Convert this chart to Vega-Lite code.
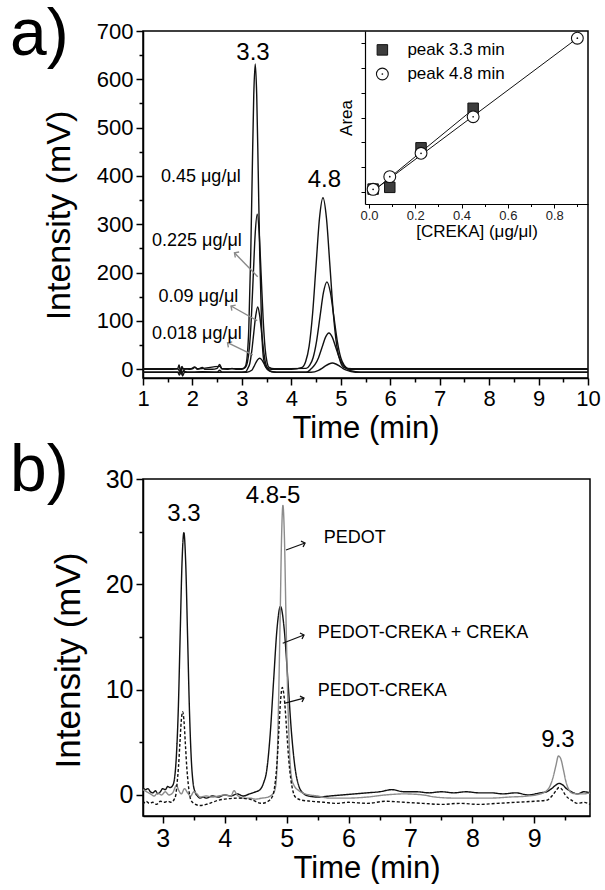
{
"$schema": "https://vega.github.io/schema/vega-lite/v6.json",
"background": "white",
"padding": {"left": 9, "top": 1, "right": 5, "bottom": 0},
"bounds": "flush",
"spacing": 101,
"config": {
  "font": "Liberation Sans",
  "view": {"stroke": "black", "strokeWidth": 1.5},
  "axis": {"grid": false, "domainColor": "black", "domainWidth": 1.5, "tickColor": "black", "tickWidth": 1.5, "labelColor": "black", "titleColor": "black", "titleFontWeight": "normal", "labelFont": "Liberation Sans", "titleFont": "Liberation Sans", "labelFlush": false, "labelOverlap": false}
},
"datasets": {
  "a": [
    {"t":1.0,"v":0,"c":"0.45"},{"t":1.3,"v":0,"c":"0.45"},{"t":1.6,"v":0,"c":"0.45"},{"t":1.7,"v":1,"c":"0.45"},{"t":1.73,"v":9,"c":"0.45"},{"t":1.76,"v":-6,"c":"0.45"},{"t":1.79,"v":6,"c":"0.45"},{"t":1.82,"v":-3,"c":"0.45"},{"t":1.86,"v":1,"c":"0.45"},{"t":1.95,"v":0,"c":"0.45"},{"t":2.05,"v":5,"c":"0.45"},{"t":2.1,"v":0,"c":"0.45"},{"t":2.2,"v":4,"c":"0.45"},{"t":2.25,"v":0,"c":"0.45"},{"t":2.4,"v":0,"c":"0.45"},{"t":2.5,"v":2,"c":"0.45"},{"t":2.55,"v":10,"c":"0.45"},{"t":2.6,"v":1,"c":"0.45"},{"t":2.7,"v":0,"c":"0.45"},{"t":2.8,"v":2,"c":"0.45"},{"t":2.9,"v":0,"c":"0.45"},{"t":3.0,"v":0,"c":"0.45"},{"t":3.07,"v":6,"c":"0.45"},{"t":3.11,"v":30,"c":"0.45"},{"t":3.14,"v":85,"c":"0.45"},{"t":3.18,"v":243,"c":"0.45"},{"t":3.21,"v":411,"c":"0.45"},{"t":3.24,"v":567,"c":"0.45"},{"t":3.27,"v":632,"c":"0.45"},{"t":3.30,"v":567,"c":"0.45"},{"t":3.33,"v":411,"c":"0.45"},{"t":3.36,"v":243,"c":"0.45"},{"t":3.40,"v":85,"c":"0.45"},{"t":3.44,"v":21,"c":"0.45"},{"t":3.5,"v":3,"c":"0.45"},{"t":3.6,"v":0,"c":"0.45"},{"t":4.0,"v":0,"c":"0.45"},{"t":4.22,"v":4,"c":"0.45"},{"t":4.29,"v":16,"c":"0.45"},{"t":4.36,"v":48,"c":"0.45"},{"t":4.43,"v":115,"c":"0.45"},{"t":4.50,"v":215,"c":"0.45"},{"t":4.57,"v":313,"c":"0.45"},{"t":4.64,"v":355,"c":"0.45"},{"t":4.71,"v":313,"c":"0.45"},{"t":4.78,"v":215,"c":"0.45"},{"t":4.85,"v":115,"c":"0.45"},{"t":4.92,"v":48,"c":"0.45"},{"t":4.99,"v":16,"c":"0.45"},{"t":5.06,"v":4,"c":"0.45"},{"t":5.2,"v":0,"c":"0.45"},{"t":6,"v":0,"c":"0.45"},{"t":7,"v":0,"c":"0.45"},{"t":8,"v":0,"c":"0.45"},{"t":9,"v":0,"c":"0.45"},{"t":10,"v":0,"c":"0.45"},
    {"t":1.0,"v":1,"c":"0.225"},{"t":1.7,"v":1,"c":"0.225"},{"t":1.75,"v":-4,"c":"0.225"},{"t":1.78,"v":5,"c":"0.225"},{"t":1.82,"v":1,"c":"0.225"},{"t":2.0,"v":1,"c":"0.225"},{"t":2.05,"v":4,"c":"0.225"},{"t":2.1,"v":1,"c":"0.225"},{"t":2.55,"v":6,"c":"0.225"},{"t":2.6,"v":1,"c":"0.225"},{"t":3.0,"v":1,"c":"0.225"},{"t":3.07,"v":4,"c":"0.225"},{"t":3.11,"v":14,"c":"0.225"},{"t":3.15,"v":43,"c":"0.225"},{"t":3.19,"v":104,"c":"0.225"},{"t":3.23,"v":194,"c":"0.225"},{"t":3.27,"v":282,"c":"0.225"},{"t":3.31,"v":321,"c":"0.225"},{"t":3.35,"v":282,"c":"0.225"},{"t":3.39,"v":194,"c":"0.225"},{"t":3.43,"v":104,"c":"0.225"},{"t":3.47,"v":43,"c":"0.225"},{"t":3.51,"v":14,"c":"0.225"},{"t":3.55,"v":4,"c":"0.225"},{"t":3.65,"v":1,"c":"0.225"},{"t":4.3,"v":2,"c":"0.225"},{"t":4.37,"v":8,"c":"0.225"},{"t":4.44,"v":24,"c":"0.225"},{"t":4.51,"v":58,"c":"0.225"},{"t":4.58,"v":109,"c":"0.225"},{"t":4.65,"v":159,"c":"0.225"},{"t":4.72,"v":181,"c":"0.225"},{"t":4.79,"v":159,"c":"0.225"},{"t":4.86,"v":109,"c":"0.225"},{"t":4.93,"v":58,"c":"0.225"},{"t":5.00,"v":24,"c":"0.225"},{"t":5.07,"v":8,"c":"0.225"},{"t":5.14,"v":2,"c":"0.225"},{"t":5.3,"v":1,"c":"0.225"},{"t":6,"v":1,"c":"0.225"},{"t":7,"v":1,"c":"0.225"},{"t":8,"v":1,"c":"0.225"},{"t":9,"v":1,"c":"0.225"},{"t":10,"v":1,"c":"0.225"},
    {"t":1.0,"v":-6,"c":"0.09"},{"t":1.7,"v":-6,"c":"0.09"},{"t":1.74,"v":-12,"c":"0.09"},{"t":1.77,"v":-2,"c":"0.09"},{"t":1.8,"v":-14,"c":"0.09"},{"t":1.84,"v":-6,"c":"0.09"},{"t":2.0,"v":-6,"c":"0.09"},{"t":2.2,"v":-5,"c":"0.09"},{"t":2.5,"v":-6,"c":"0.09"},{"t":2.55,"v":-2,"c":"0.09"},{"t":2.6,"v":-6,"c":"0.09"},{"t":3.0,"v":-6,"c":"0.09"},{"t":3.08,"v":-5,"c":"0.09"},{"t":3.12,"v":2,"c":"0.09"},{"t":3.16,"v":12,"c":"0.09"},{"t":3.20,"v":38,"c":"0.09"},{"t":3.24,"v":75,"c":"0.09"},{"t":3.28,"v":111,"c":"0.09"},{"t":3.32,"v":129,"c":"0.09"},{"t":3.36,"v":111,"c":"0.09"},{"t":3.40,"v":75,"c":"0.09"},{"t":3.44,"v":38,"c":"0.09"},{"t":3.48,"v":12,"c":"0.09"},{"t":3.52,"v":2,"c":"0.09"},{"t":3.58,"v":-4,"c":"0.09"},{"t":3.7,"v":-6,"c":"0.09"},{"t":4.3,"v":-6,"c":"0.09"},{"t":4.41,"v":2,"c":"0.09"},{"t":4.48,"v":10,"c":"0.09"},{"t":4.55,"v":24,"c":"0.09"},{"t":4.62,"v":45,"c":"0.09"},{"t":4.69,"v":66,"c":"0.09"},{"t":4.76,"v":75,"c":"0.09"},{"t":4.83,"v":66,"c":"0.09"},{"t":4.90,"v":45,"c":"0.09"},{"t":4.97,"v":24,"c":"0.09"},{"t":5.04,"v":10,"c":"0.09"},{"t":5.11,"v":3,"c":"0.09"},{"t":5.2,"v":-3,"c":"0.09"},{"t":5.4,"v":-6,"c":"0.09"},{"t":6,"v":-6,"c":"0.09"},{"t":7,"v":-6,"c":"0.09"},{"t":8,"v":-6,"c":"0.09"},{"t":9,"v":-6,"c":"0.09"},{"t":10,"v":-6,"c":"0.09"},
    {"t":1.0,"v":-6,"c":"0.018"},{"t":1.75,"v":-6,"c":"0.018"},{"t":1.78,"v":-10,"c":"0.018"},{"t":1.81,"v":-4,"c":"0.018"},{"t":1.9,"v":-6,"c":"0.018"},{"t":3.1,"v":-6,"c":"0.018"},{"t":3.2,"v":-2,"c":"0.018"},{"t":3.24,"v":5,"c":"0.018"},{"t":3.28,"v":13,"c":"0.018"},{"t":3.32,"v":20,"c":"0.018"},{"t":3.36,"v":23,"c":"0.018"},{"t":3.40,"v":20,"c":"0.018"},{"t":3.44,"v":13,"c":"0.018"},{"t":3.48,"v":5,"c":"0.018"},{"t":3.52,"v":-1,"c":"0.018"},{"t":3.6,"v":-5,"c":"0.018"},{"t":3.7,"v":-6,"c":"0.018"},{"t":4.4,"v":-6,"c":"0.018"},{"t":4.55,"v":-2,"c":"0.018"},{"t":4.62,"v":2,"c":"0.018"},{"t":4.69,"v":7,"c":"0.018"},{"t":4.76,"v":11,"c":"0.018"},{"t":4.83,"v":13,"c":"0.018"},{"t":4.90,"v":11,"c":"0.018"},{"t":4.97,"v":7,"c":"0.018"},{"t":5.04,"v":2,"c":"0.018"},{"t":5.1,"v":-1,"c":"0.018"},{"t":5.3,"v":-6,"c":"0.018"},{"t":6,"v":-6,"c":"0.018"},{"t":10,"v":-6,"c":"0.018"}
  ],
  "aLab": [
    {"t":-1.69,"v":757.7,"label":"a)","kind":"panel"},
    {"t":3.225,"v":640,"label":"3.3","kind":"peak"},
    {"t":4.67,"v":377,"label":"4.8","kind":"peak"},
    {"t":2.17,"v":387,"label":"0.45 μg/μl","kind":"conc"},
    {"t":2.09,"v":255,"label":"0.225 μg/μl","kind":"conc"},
    {"t":2.12,"v":140,"label":"0.09 μg/μl","kind":"conc"},
    {"t":2.09,"v":62,"label":"0.018 μg/μl","kind":"conc"}
  ],
  "aArr": [
    {"t":2.85,"v":241,"t2":3.32,"v2":191.6},
    {"t":2.78,"v":131,"t2":3.31,"v2":100.6},
    {"t":2.71,"v":55,"t2":3.22,"v2":29.6}
  ],
  "ins": [
    {"conc":0.018,"area":1.12,"kind":"sq"},{"conc":0.09,"area":1.19,"kind":"sq"},{"conc":0.225,"area":2.78,"kind":"sq"},{"conc":0.45,"area":4.37,"kind":"sq"},
    {"conc":0.018,"area":1.11,"kind":"ci"},{"conc":0.09,"area":1.62,"kind":"ci"},{"conc":0.225,"area":2.56,"kind":"ci"},{"conc":0.45,"area":4.03,"kind":"ci"},{"conc":0.9,"area":7.19,"kind":"ci"},
    {"conc":0.058,"area":6.72,"kind":"sq"},{"conc":0.058,"area":5.75,"kind":"ci"},
    {"conc":0.166,"area":6.72,"kind":"txt","label":"peak 3.3 min"},
    {"conc":0.166,"area":5.75,"kind":"txt","label":"peak 4.8 min"}
  ],
  "insFit": [
    {"conc":0.007,"area":0.95,"series":"p33"},{"conc":0.45,"area":4.33,"series":"p33"},
    {"conc":0.007,"area":0.97,"series":"p48"},{"conc":0.9,"area":7.19,"series":"p48"}
  ],
  "b": [
    {"t":2.68,"v":0.7,"s":"mix"},{"t":2.72,"v":0.5,"s":"mix"},{"t":2.76,"v":0.6,"s":"mix"},{"t":2.8,"v":0.3,"s":"mix"},{"t":2.84,"v":0.2,"s":"mix"},{"t":2.88,"v":0.4,"s":"mix"},{"t":2.92,"v":0.1,"s":"mix"},{"t":2.96,"v":0.3,"s":"mix"},{"t":3.0,"v":0.6,"s":"mix"},{"t":3.04,"v":0.5,"s":"mix"},{"t":3.08,"v":0.8,"s":"mix"},{"t":3.12,"v":0.7,"s":"mix"},{"t":3.16,"v":0.9,"s":"mix"},{"t":3.19,"v":1.6,"s":"mix"},{"t":3.22,"v":3.8,"s":"mix"},{"t":3.25,"v":8.1,"s":"mix"},{"t":3.28,"v":15.1,"s":"mix"},{"t":3.31,"v":22.0,"s":"mix"},{"t":3.34,"v":24.9,"s":"mix"},{"t":3.37,"v":22.0,"s":"mix"},{"t":3.40,"v":15.1,"s":"mix"},{"t":3.43,"v":8.1,"s":"mix"},{"t":3.46,"v":3.4,"s":"mix"},{"t":3.49,"v":1.1,"s":"mix"},{"t":3.52,"v":0.3,"s":"mix"},{"t":3.56,"v":-0.1,"s":"mix"},{"t":3.6,"v":-0.3,"s":"mix"},{"t":3.65,"v":-0.2,"s":"mix"},{"t":3.7,"v":-0.3,"s":"mix"},{"t":3.8,"v":-0.1,"s":"mix"},{"t":3.9,"v":-0.2,"s":"mix"},{"t":4.0,"v":0.0,"s":"mix"},{"t":4.1,"v":-0.1,"s":"mix"},{"t":4.2,"v":0.1,"s":"mix"},{"t":4.3,"v":-0.1,"s":"mix"},{"t":4.4,"v":0.1,"s":"mix"},{"t":4.5,"v":0.3,"s":"mix"},{"t":4.57,"v":0.5,"s":"mix"},{"t":4.625,"v":1.1,"s":"mix"},{"t":4.68,"v":2.4,"s":"mix"},{"t":4.735,"v":5.8,"s":"mix"},{"t":4.79,"v":10.9,"s":"mix"},{"t":4.845,"v":15.8,"s":"mix"},{"t":4.90,"v":17.9,"s":"mix"},{"t":4.96,"v":15.8,"s":"mix"},{"t":5.02,"v":10.9,"s":"mix"},{"t":5.08,"v":5.8,"s":"mix"},{"t":5.14,"v":2.4,"s":"mix"},{"t":5.20,"v":0.8,"s":"mix"},{"t":5.26,"v":0.2,"s":"mix"},{"t":5.35,"v":-0.1,"s":"mix"},{"t":5.5,"v":-0.2,"s":"mix"},{"t":5.7,"v":-0.1,"s":"mix"},{"t":5.9,"v":0.0,"s":"mix"},{"t":6.1,"v":0.1,"s":"mix"},{"t":6.3,"v":0.2,"s":"mix"},{"t":6.5,"v":0.3,"s":"mix"},{"t":6.7,"v":0.5,"s":"mix"},{"t":6.9,"v":0.3,"s":"mix"},{"t":7.1,"v":0.3,"s":"mix"},{"t":7.3,"v":0.2,"s":"mix"},{"t":7.5,"v":0.3,"s":"mix"},{"t":7.7,"v":0.2,"s":"mix"},{"t":7.9,"v":0.3,"s":"mix"},{"t":8.1,"v":0.2,"s":"mix"},{"t":8.3,"v":0.2,"s":"mix"},{"t":8.5,"v":0.1,"s":"mix"},{"t":8.7,"v":0.2,"s":"mix"},{"t":8.9,"v":0.0,"s":"mix"},{"t":9.1,"v":0.2,"s":"mix"},{"t":9.2,"v":0.3,"s":"mix"},{"t":9.28,"v":0.6,"s":"mix"},{"t":9.34,"v":0.9,"s":"mix"},{"t":9.40,"v":1.1,"s":"mix"},{"t":9.46,"v":0.95,"s":"mix"},{"t":9.52,"v":0.6,"s":"mix"},{"t":9.6,"v":0.3,"s":"mix"},{"t":9.7,"v":0.1,"s":"mix"},{"t":9.8,"v":0.3,"s":"mix"},{"t":9.9,"v":0.2,"s":"mix"},
    {"t":2.68,"v":0.5,"s":"pedot"},{"t":2.74,"v":0.3,"s":"pedot"},{"t":2.8,"v":0.1,"s":"pedot"},{"t":2.86,"v":-0.1,"s":"pedot"},{"t":2.92,"v":0.2,"s":"pedot"},{"t":2.98,"v":0.0,"s":"pedot"},{"t":3.04,"v":0.3,"s":"pedot"},{"t":3.1,"v":0.0,"s":"pedot"},{"t":3.16,"v":0.2,"s":"pedot"},{"t":3.22,"v":0.9,"s":"pedot"},{"t":3.26,"v":0.4,"s":"pedot"},{"t":3.3,"v":0.1,"s":"pedot"},{"t":3.35,"v":0.6,"s":"pedot"},{"t":3.4,"v":0.2,"s":"pedot"},{"t":3.45,"v":-0.1,"s":"pedot"},{"t":3.5,"v":0.3,"s":"pedot"},{"t":3.55,"v":0.1,"s":"pedot"},{"t":3.6,"v":-0.2,"s":"pedot"},{"t":3.7,"v":-0.1,"s":"pedot"},{"t":3.8,"v":-0.2,"s":"pedot"},{"t":3.9,"v":-0.1,"s":"pedot"},{"t":4.0,"v":0.0,"s":"pedot"},{"t":4.1,"v":-0.1,"s":"pedot"},{"t":4.15,"v":0.4,"s":"pedot"},{"t":4.2,"v":0.0,"s":"pedot"},{"t":4.3,"v":-0.3,"s":"pedot"},{"t":4.4,"v":-0.3,"s":"pedot"},{"t":4.5,"v":-0.4,"s":"pedot"},{"t":4.6,"v":-0.3,"s":"pedot"},{"t":4.7,"v":-0.2,"s":"pedot"},{"t":4.76,"v":0.0,"s":"pedot"},{"t":4.8,"v":0.3,"s":"pedot"},{"t":4.83,"v":1.2,"s":"pedot"},{"t":4.85,"v":3.7,"s":"pedot"},{"t":4.87,"v":8.9,"s":"pedot"},{"t":4.895,"v":16.7,"s":"pedot"},{"t":4.9175,"v":24.3,"s":"pedot"},{"t":4.94,"v":27.5,"s":"pedot"},{"t":4.965,"v":24.3,"s":"pedot"},{"t":4.99,"v":16.7,"s":"pedot"},{"t":5.02,"v":8.9,"s":"pedot"},{"t":5.05,"v":3.7,"s":"pedot"},{"t":5.08,"v":1.6,"s":"pedot"},{"t":5.12,"v":0.9,"s":"pedot"},{"t":5.2,"v":0.4,"s":"pedot"},{"t":5.3,"v":0.1,"s":"pedot"},{"t":5.5,"v":-0.1,"s":"pedot"},{"t":5.7,"v":-0.3,"s":"pedot"},{"t":6.0,"v":-0.3,"s":"pedot"},{"t":6.3,"v":-0.2,"s":"pedot"},{"t":6.6,"v":0.0,"s":"pedot"},{"t":6.9,"v":0.1,"s":"pedot"},{"t":7.2,"v":0.0,"s":"pedot"},{"t":7.4,"v":-0.2,"s":"pedot"},{"t":7.7,"v":-0.3,"s":"pedot"},{"t":8.0,"v":-0.3,"s":"pedot"},{"t":8.3,"v":-0.3,"s":"pedot"},{"t":8.6,"v":-0.2,"s":"pedot"},{"t":8.9,"v":-0.1,"s":"pedot"},{"t":9.1,"v":0.1,"s":"pedot"},{"t":9.2,"v":0.4,"s":"pedot"},{"t":9.25,"v":0.8,"s":"pedot"},{"t":9.3,"v":1.6,"s":"pedot"},{"t":9.35,"v":2.8,"s":"pedot"},{"t":9.39,"v":3.7,"s":"pedot"},{"t":9.43,"v":3.4,"s":"pedot"},{"t":9.47,"v":2.4,"s":"pedot"},{"t":9.51,"v":1.3,"s":"pedot"},{"t":9.55,"v":0.6,"s":"pedot"},{"t":9.6,"v":0.2,"s":"pedot"},{"t":9.7,"v":0.1,"s":"pedot"},{"t":9.8,"v":0.1,"s":"pedot"},{"t":9.9,"v":0.2,"s":"pedot"},
    {"t":2.68,"v":-0.9,"s":"pc"},{"t":2.73,"v":-0.6,"s":"pc"},{"t":2.78,"v":-0.8,"s":"pc"},{"t":2.84,"v":-0.7,"s":"pc"},{"t":2.9,"v":-0.9,"s":"pc"},{"t":2.96,"v":-0.6,"s":"pc"},{"t":3.02,"v":-0.7,"s":"pc"},{"t":3.08,"v":-0.6,"s":"pc"},{"t":3.14,"v":-0.7,"s":"pc"},{"t":3.185,"v":-0.4,"s":"pc"},{"t":3.21,"v":0.0,"s":"pc"},{"t":3.23,"v":1.1,"s":"pc"},{"t":3.2525,"v":2.6,"s":"pc"},{"t":3.275,"v":4.8,"s":"pc"},{"t":3.2975,"v":7.0,"s":"pc"},{"t":3.32,"v":7.9,"s":"pc"},{"t":3.3425,"v":7.0,"s":"pc"},{"t":3.365,"v":4.8,"s":"pc"},{"t":3.3875,"v":2.6,"s":"pc"},{"t":3.41,"v":1.1,"s":"pc"},{"t":3.4325,"v":0.0,"s":"pc"},{"t":3.455,"v":-0.5,"s":"pc"},{"t":3.5,"v":-0.8,"s":"pc"},{"t":3.6,"v":-1.0,"s":"pc"},{"t":3.7,"v":-0.9,"s":"pc"},{"t":3.8,"v":-0.7,"s":"pc"},{"t":3.9,"v":-0.5,"s":"pc"},{"t":4.0,"v":-0.4,"s":"pc"},{"t":4.2,"v":-0.3,"s":"pc"},{"t":4.4,"v":-0.4,"s":"pc"},{"t":4.6,"v":-0.8,"s":"pc"},{"t":4.7,"v":-0.6,"s":"pc"},{"t":4.765,"v":-0.2,"s":"pc"},{"t":4.7925,"v":0.3,"s":"pc"},{"t":4.82,"v":1.4,"s":"pc"},{"t":4.8475,"v":3.3,"s":"pc"},{"t":4.875,"v":6.2,"s":"pc"},{"t":4.9025,"v":9.0,"s":"pc"},{"t":4.93,"v":10.2,"s":"pc"},{"t":4.965,"v":9.0,"s":"pc"},{"t":5.0,"v":6.2,"s":"pc"},{"t":5.035,"v":3.3,"s":"pc"},{"t":5.07,"v":1.4,"s":"pc"},{"t":5.105,"v":0.3,"s":"pc"},{"t":5.14,"v":-0.2,"s":"pc"},{"t":5.25,"v":-0.5,"s":"pc"},{"t":5.4,"v":-0.6,"s":"pc"},{"t":5.6,"v":-0.7,"s":"pc"},{"t":5.8,"v":-0.8,"s":"pc"},{"t":6.0,"v":-0.7,"s":"pc"},{"t":6.3,"v":-0.8,"s":"pc"},{"t":6.6,"v":-0.6,"s":"pc"},{"t":6.9,"v":-0.7,"s":"pc"},{"t":7.2,"v":-0.8,"s":"pc"},{"t":7.5,"v":-0.9,"s":"pc"},{"t":7.8,"v":-0.8,"s":"pc"},{"t":8.1,"v":-0.9,"s":"pc"},{"t":8.4,"v":-0.8,"s":"pc"},{"t":8.7,"v":-0.7,"s":"pc"},{"t":9.0,"v":-0.6,"s":"pc"},{"t":9.2,"v":-0.5,"s":"pc"},{"t":9.3,"v":0.0,"s":"pc"},{"t":9.35,"v":0.4,"s":"pc"},{"t":9.4,"v":0.7,"s":"pc"},{"t":9.45,"v":0.5,"s":"pc"},{"t":9.5,"v":0.0,"s":"pc"},{"t":9.6,"v":-0.5,"s":"pc"},{"t":9.7,"v":-0.8,"s":"pc"},{"t":9.8,"v":-0.7,"s":"pc"},{"t":9.9,"v":-0.9,"s":"pc"}
  ],
  "bLab": [
    {"t":0.532,"v":33.8,"label":"b)","kind":"panel"},
    {"t":3.342,"v":26.04,"label":"3.3","kind":"peak"},
    {"t":4.78,"v":27.69,"label":"4.8-5","kind":"peak"},
    {"t":9.383,"v":4.52,"label":"9.3","kind":"peak"},
    {"t":5.599,"v":24.4,"label":"PEDOT","kind":"name"},
    {"t":5.502,"v":15.42,"label":"PEDOT-CREKA + CREKA","kind":"name"},
    {"t":5.502,"v":9.87,"label":"PEDOT-CREKA","kind":"name"}
  ],
  "bArr": [
    {"t":5.297,"v":23.92,"t2":4.99,"v2":23.26},
    {"t":5.28,"v":15.19,"t2":4.937,"v2":14.4},
    {"t":5.28,"v":9.2,"t2":4.96,"v2":8.7}
  ]
},
"vconcat": [
  {
    "width": 445,
    "height": 347,
    "layer": [
      {
        "encoding": {
          "x": {"field": "t", "type": "quantitative", "scale": {"domain": [1, 10], "nice": false, "zero": false},
                "axis": {"title": "Time (min)", "values": [1,1.5,2,2.5,3,3.5,4,4.5,5,5.5,6,6.5,7,7.5,8,8.5,9,9.5,10],
                         "labelExpr": "datum.value % 1 === 0 ? format(datum.value, 'd') : ''",
                         "tickSize": {"condition": {"test": "datum.value % 1 !== 0", "value": 4}, "value": 7},
                         "labelFontSize": 22, "titleFontSize": 31, "labelPadding": 3, "titlePadding": 4}},
          "y": {"field": "v", "type": "quantitative", "scale": {"domain": [-18, 700], "nice": false, "zero": false},
                "axis": {"title": "Intensity (mV)", "values": [0,50,100,150,200,250,300,350,400,450,500,550,600,650,700],
                         "labelExpr": "datum.value % 100 === 0 ? datum.label : ''",
                         "tickSize": {"condition": {"test": "datum.value % 100 !== 0", "value": 4}, "value": 7},
                         "labelFontSize": 22, "titleFontSize": 34, "labelPadding": 3, "titlePadding": 20, "titleY": 184}}
        },
        "layer": [
          {"data": {"name": "a"}, "mark": {"type": "line", "interpolate": "monotone", "color": "#111111", "strokeWidth": 1.4},
           "encoding": {"detail": {"field": "c", "type": "nominal"}}},
          {"data": {"name": "aArr"}, "mark": {"type": "rule", "color": "#8a8a8a", "strokeWidth": 1.4},
           "encoding": {"x2": {"field": "t2"}, "y2": {"field": "v2"}}},
          {"data": {"name": "aArr"}, "mark": {"type": "point", "shape": "M-1,1L0,0L1,1", "filled": false, "color": "#8a8a8a", "strokeWidth": 1.4, "size": 45, "angle": 305, "opacity": 1},
           "encoding": {}},
          {"data": {"name": "aLab"}, "transform": [{"filter": "datum.kind === 'panel'"}],
           "mark": {"type": "text", "fontSize": 66, "align": "left", "baseline": "top", "color": "black"},
           "encoding": {"text": {"field": "label"}}},
          {"data": {"name": "aLab"}, "transform": [{"filter": "datum.kind === 'peak'"}],
           "mark": {"type": "text", "fontSize": 24, "align": "center", "baseline": "alphabetic", "color": "black"},
           "encoding": {"text": {"field": "label"}}},
          {"data": {"name": "aLab"}, "transform": [{"filter": "datum.kind === 'conc'"}],
           "mark": {"type": "text", "fontSize": 18, "align": "center", "baseline": "alphabetic", "color": "black"},
           "encoding": {"text": {"field": "label"}}}
        ]
      },
      {
        "encoding": {
          "x": {"field": "conc", "type": "quantitative", "scale": {"domain": [-0.017, 0.946], "range": [222, 445], "nice": false, "zero": false},
                "axis": {"orient": "bottom", "offset": -174, "title": "[CREKA] (μg/μl)", "values": [0,0.1,0.2,0.3,0.4,0.5,0.6,0.7,0.8,0.9],
                         "labelExpr": "round(datum.value*10) % 2 === 0 ? format(datum.value, '.1f') : ''",
                         "tickSize": {"condition": {"test": "round(datum.value*10) % 2 !== 0", "value": 2.5}, "value": 4},
                         "tickWidth": 1, "domainWidth": 1.2, "labelFontSize": 13, "labelColor": "#222222", "titleFontSize": 17, "labelPadding": 1, "titlePadding": 1}},
          "y": {"field": "area", "type": "quantitative", "scale": {"domain": [0.52, 7.48], "range": [173, 0], "nice": false, "zero": false},
                "axis": {"orient": "left", "offset": -222, "title": "Area", "values": [1,2,3,4,5,6,7], "labels": false,
                         "tickSize": 4, "tickWidth": 1, "domainWidth": 1.2, "titleFontSize": 17, "titlePadding": 5}}
        },
        "layer": [
          {"data": {"name": "insFit"}, "mark": {"type": "line", "color": "#111111", "strokeWidth": 1},
           "encoding": {"detail": {"field": "series", "type": "nominal"}}},
          {"data": {"name": "ins"}, "transform": [{"filter": "datum.kind === 'sq'"}],
           "mark": {"type": "point", "shape": "square", "filled": true, "fill": "#3d3d3d", "stroke": "#111111", "strokeWidth": 1, "size": 110, "opacity": 1}},
          {"data": {"name": "ins"}, "transform": [{"filter": "datum.kind === 'ci'"}],
           "mark": {"type": "point", "shape": "circle", "filled": true, "fill": "white", "stroke": "#111111", "strokeWidth": 1.1, "size": 140, "opacity": 1}},
          {"data": {"name": "ins"}, "transform": [{"filter": "datum.kind === 'ci'"}],
           "mark": {"type": "point", "shape": "circle", "filled": true, "color": "#111111", "size": 3, "opacity": 1}},
          {"data": {"name": "ins"}, "transform": [{"filter": "datum.kind === 'txt'"}],
           "mark": {"type": "text", "fontSize": 17, "align": "left", "baseline": "middle", "color": "black"},
           "encoding": {"text": {"field": "label"}}}
        ]
      }
    ],
    "resolve": {"scale": {"x": "independent", "y": "independent"}}
  },
  {
    "width": 447,
    "height": 337,
    "encoding": {
      "x": {"field": "t", "type": "quantitative", "scale": {"domain": [2.68, 9.9], "nice": false, "zero": false},
            "axis": {"title": "Time (min)", "values": [3,3.5,4,4.5,5,5.5,6,6.5,7,7.5,8,8.5,9,9.5],
                     "labelExpr": "datum.value % 1 === 0 ? format(datum.value, 'd') : ''",
                     "tickSize": {"condition": {"test": "datum.value % 1 !== 0", "value": 4}, "value": 7},
                     "labelFontSize": 25, "titleFontSize": 31, "labelPadding": 3, "titlePadding": 2}},
      "y": {"field": "v", "type": "quantitative", "scale": {"domain": [-2, 30], "nice": false, "zero": false},
            "axis": {"title": "Intensity (mV)", "values": [0,5,10,15,20,25,30],
                     "labelExpr": "datum.value % 10 === 0 ? datum.label : ''",
                     "tickSize": {"condition": {"test": "datum.value % 10 !== 0", "value": 4}, "value": 7},
                     "labelFontSize": 25, "titleFontSize": 35, "labelPadding": 3, "titlePadding": 19, "titleY": 181}}
    },
    "layer": [
      {"data": {"name": "b"}, "mark": {"type": "line", "interpolate": "monotone", "strokeWidth": 1.4},
       "encoding": {
         "color": {"field": "s", "type": "nominal", "scale": {"domain": ["pc", "mix", "pedot"], "range": ["#111111", "#111111", "#8c8c8c"]}, "legend": null},
         "strokeDash": {"field": "s", "type": "nominal", "scale": {"domain": ["pc", "mix", "pedot"], "range": [[3, 2], [1, 0], [1, 0]]}, "legend": null}
       }},
      {"data": {"name": "bArr"}, "mark": {"type": "rule", "color": "#111111", "strokeWidth": 1.2},
       "encoding": {"x2": {"field": "t2"}, "y2": {"field": "v2"}}},
      {"data": {"name": "bArr"}, "mark": {"type": "point", "shape": "M-1,1L0,0L1,1", "filled": false, "color": "#111111", "strokeWidth": 1.3, "size": 40, "angle": 71, "opacity": 1},
       "encoding": {}},
      {"data": {"name": "bLab"}, "transform": [{"filter": "datum.kind === 'panel'"}],
       "mark": {"type": "text", "fontSize": 66, "align": "left", "baseline": "top", "color": "black"},
       "encoding": {"text": {"field": "label"}}},
      {"data": {"name": "bLab"}, "transform": [{"filter": "datum.kind === 'peak'"}],
       "mark": {"type": "text", "fontSize": 24, "align": "center", "baseline": "alphabetic", "color": "black"},
       "encoding": {"text": {"field": "label"}}},
      {"data": {"name": "bLab"}, "transform": [{"filter": "datum.kind === 'name'"}],
       "mark": {"type": "text", "fontSize": 18, "align": "left", "baseline": "middle", "color": "black"},
       "encoding": {"text": {"field": "label"}}}
    ]
  }
]
}
